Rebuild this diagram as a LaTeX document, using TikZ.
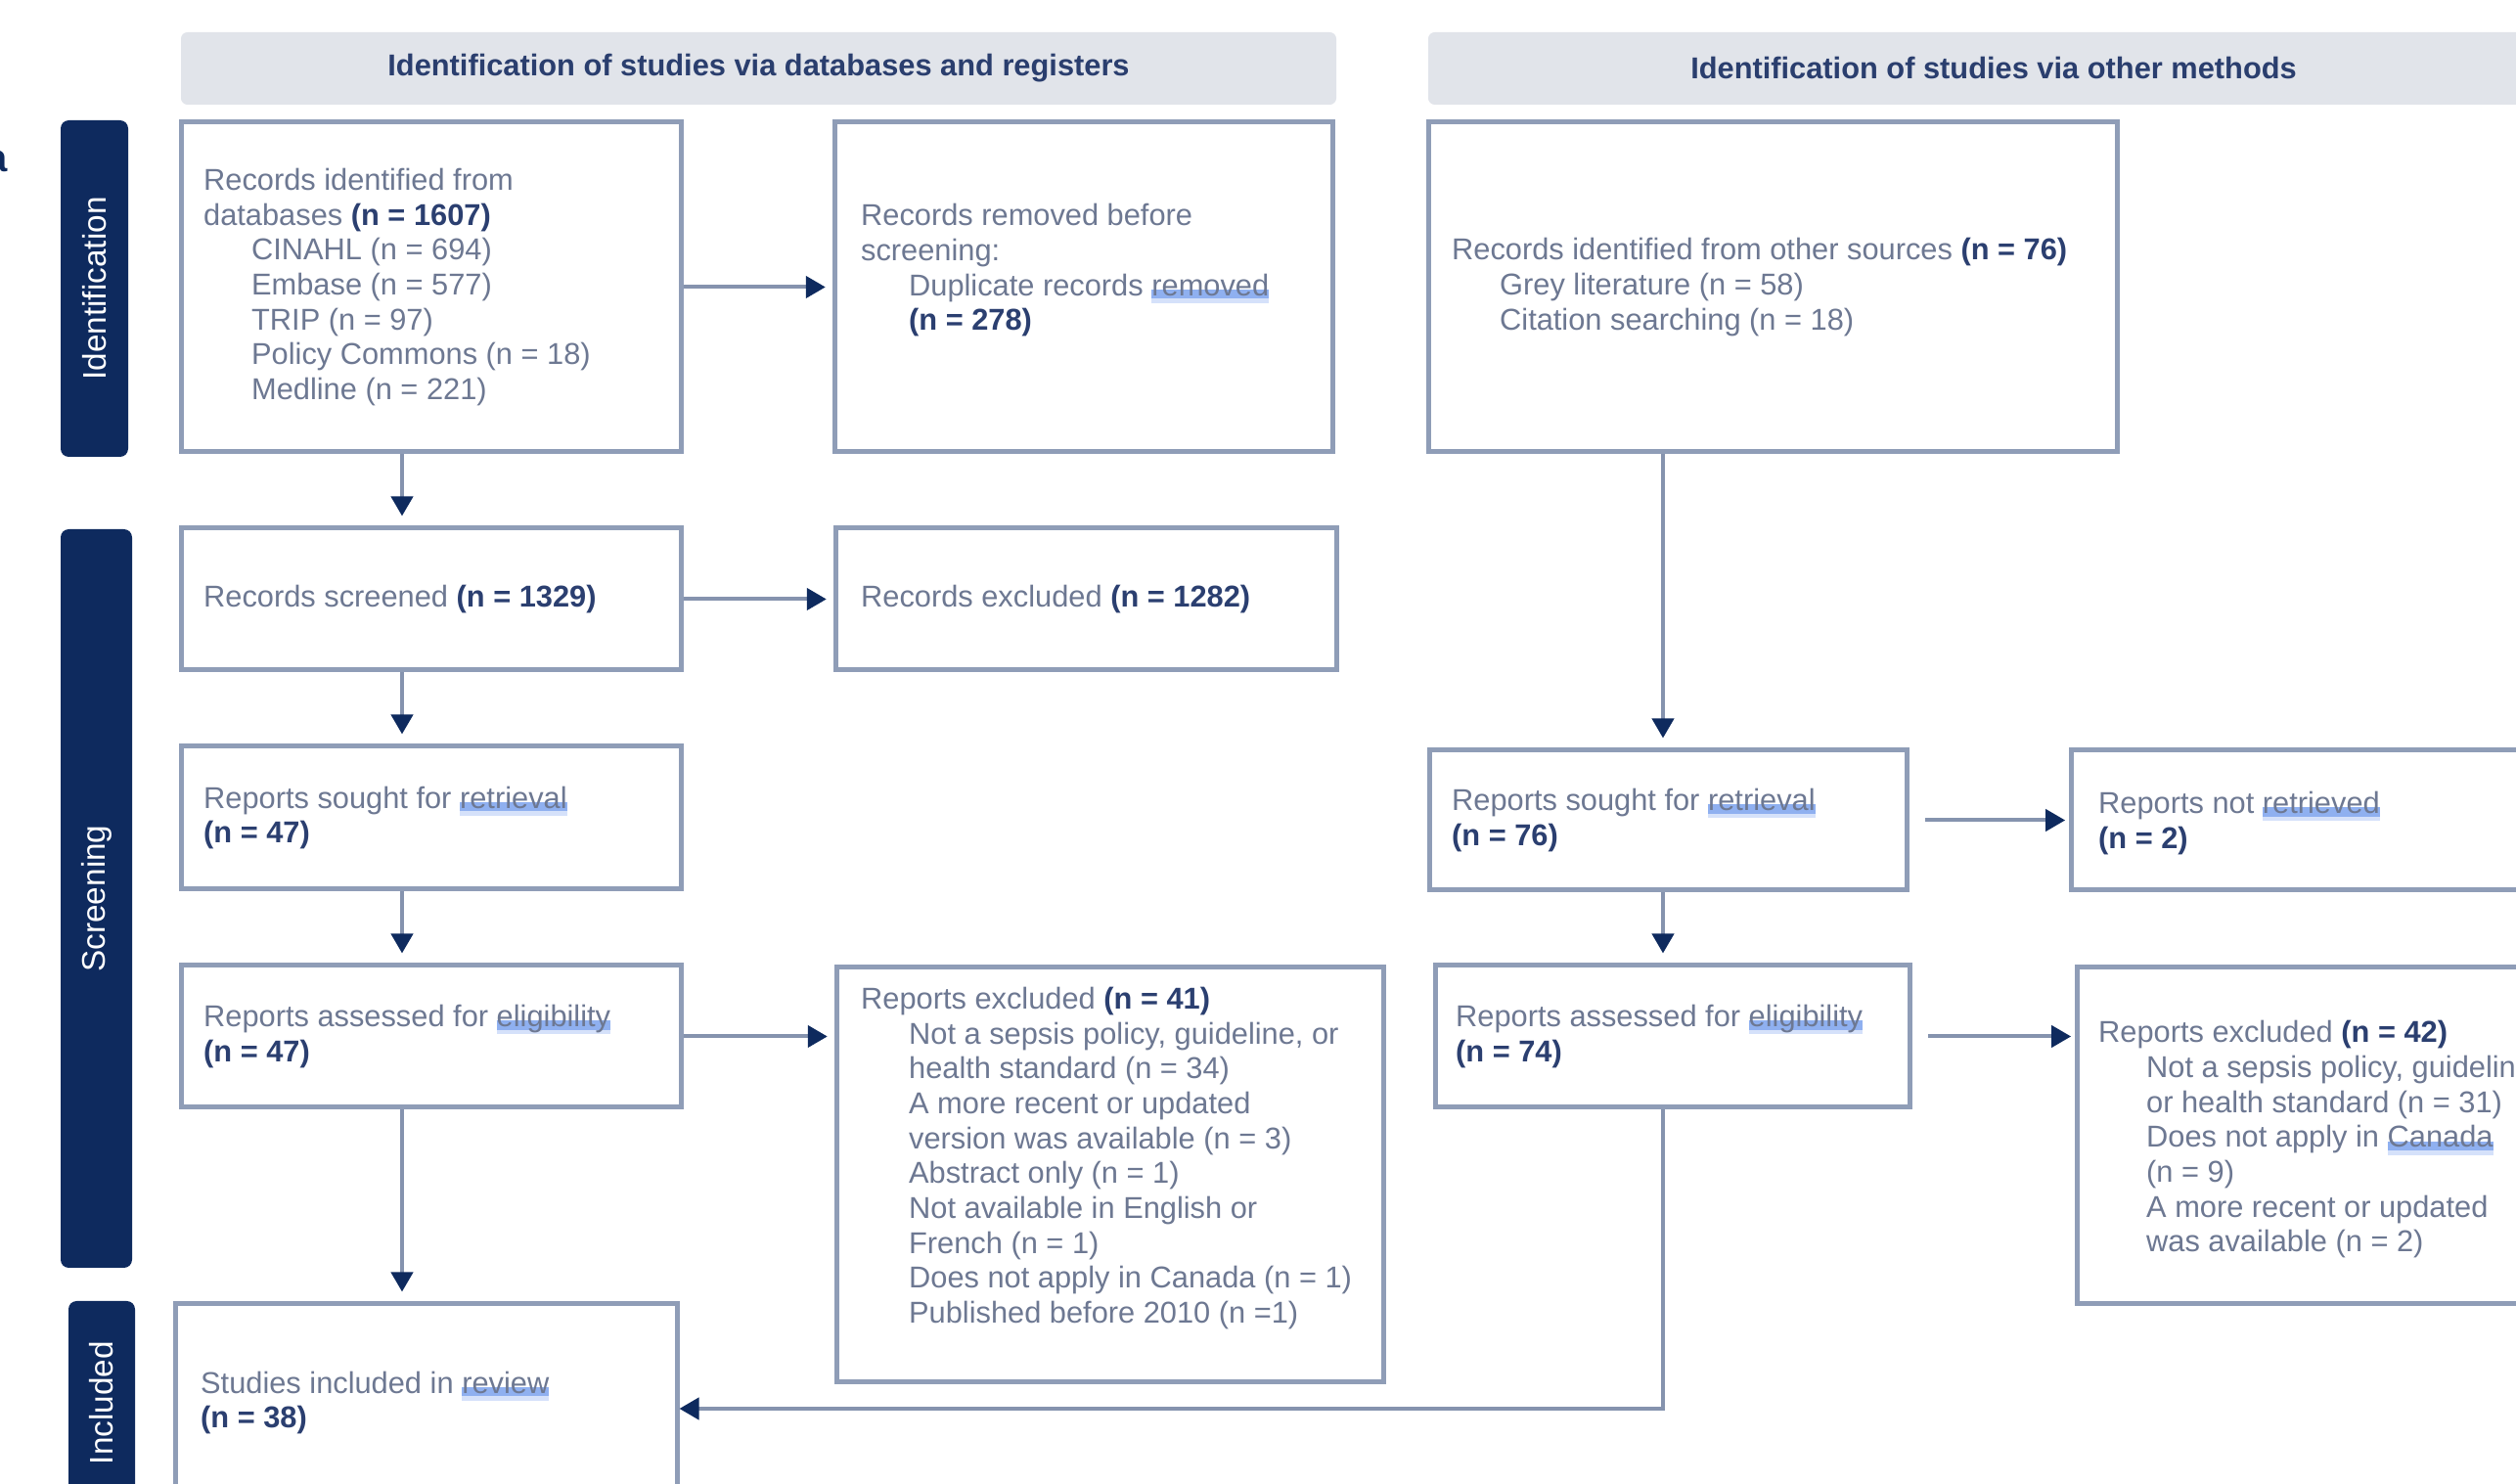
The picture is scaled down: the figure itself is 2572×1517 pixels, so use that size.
\documentclass[tikz,border=0pt]{standalone}
\usepackage{fontspec}
\setmainfont{Liberation Sans}
\usetikzlibrary{arrows.meta,calc,fit}
\definecolor{txtc}{HTML}{6D7892}
\definecolor{boldc}{HTML}{2B3F70}
\definecolor{boxc}{HTML}{8F9DB7}
\definecolor{linec}{HTML}{8593AE}
\definecolor{navyc}{HTML}{0E2A5E}
\definecolor{hdrc}{HTML}{E1E4EA}
\definecolor{hdrtc}{HTML}{2A3E6E}
\definecolor{ulc}{HTML}{8FB0F0}
\definecolor{ullc}{HTML}{D5E1FA}
\newcommand\nb[1]{{\bfseries\color{boldc}#1}}
\newcommand\ulw[1]{\setbox0=\hbox{#1}\rlap{\color{ulc}\rule[-0.1em]{\wd0}{0.3em}}\rlap{\color{ullc}\rule[-0.25em]{\wd0}{0.15em}}\box0}
\newcommand\ind{\hspace*{14.7pt}}
\begin{document}
\begin{tikzpicture}[x=0.3pt,y=-0.3pt,
 box/.style={draw=boxc,line width=1.5pt,fill=white,inner sep=0pt},
 bar/.style={fill=navyc,rounded corners=2.5pt,inner sep=0pt},
 hdr/.style={fill=hdrc,rounded corners=2pt,inner sep=0pt},
 lbl/.style={anchor=west,inner sep=0pt,align=left,text=txtc,font=\fontsize{9.24}{10.7}\selectfont},
 bartxt/.style={rotate=90,text=white,font=\fontsize{10}{12}\selectfont,inner sep=0pt},
 hdrtxt/.style={text=hdrtc,font=\bfseries\fontsize{9.24}{11}\selectfont,inner sep=0pt},
 arr/.style={draw=linec,line width=1.2pt,shorten >=2pt,-{Triangle[length=6pt,width=6.6pt,color=navyc,fill=navyc]}}]
\useasboundingbox (0,0) rectangle (2572,1517);
\clip (0,0) rectangle (2572,1517);
\fill[white] (0,0) rectangle (2572,1517);

% headers
\node[hdr, fit={(185,33) (1366,107)}] (hA) {};
\node[hdrtxt] (hAt) at (hA.center) {Identification of studies via databases and registers};
\node[hdr, fit={(1460,33) (2616,107)}] (hB) {};
\node[hdrtxt] (hBt) at (2038,70) {Identification of studies via other methods};

% partial panel letter at left edge
\node[anchor=east,inner sep=0pt,text=navyc,font=\bfseries\fontsize{12}{12}\selectfont] (plab) at (8,165) {a};

% side bars
\node[bar, fit={(62,123) (131,467)}] (idbar) {};
\node[bartxt] (idbart) at (idbar.center) {Identification};
\node[bar, fit={(62,541) (135,1296)}] (scbar) {};
\node[bartxt] (scbart) at (scbar.center) {Screening};
\node[bar, fit={(70,1330) (138,1538)}] (inbar) {};
\node[bartxt] (inbart) at (inbar.center) {Included};

% boxes
\node[box, fit={(185,125) (696,462)}] (b1) {};
\node[box, fit={(853,125) (1362,462)}] (b2) {};
\node[box, fit={(1460,125) (2164,462)}] (b3) {};
\node[box, fit={(185,540) (696,685)}] (s1) {};
\node[box, fit={(854,540) (1366,685)}] (s2) {};
\node[box, fit={(185,763) (696,909)}] (r1) {};
\node[box, fit={(1461,767) (1949,910)}] (r2) {};
\node[box, fit={(2117,767) (2640,910)}] (r3) {};
\node[box, fit={(185,987) (696,1132)}] (a1) {};
\node[box, fit={(1467,987) (1952,1132)}] (a2) {};
\node[box, fit={(855,989) (1414,1413)}] (e1) {};
\node[box, fit={(2123,989) (2640,1333)}] (e2) {};
\node[box, fit={(179,1333) (692,1547)}] (inc) {};

% texts
\node[lbl] (b1t) at ($(b1.west)+(25,0)$) {Records identified from\\ databases \nb{(n = 1607)}\\ \ind CINAHL (n = 694)\\ \ind Embase (n = 577)\\ \ind TRIP (n = 97)\\ \ind Policy Commons (n = 18)\\ \ind Medline (n = 221)};
\node[lbl] (b2t) at ($(b2.west)+(29,-17)$) {Records removed before\\ screening:\\ \ind Duplicate records \ulw{removed}\\ \ind \nb{(n = 278)}};
\node[lbl] (b3t) at ($(b3.west)+(26,0)$) {Records identified from other sources \nb{(n = 76)}\\ \ind Grey literature (n = 58)\\ \ind Citation searching (n = 18)};
\node[lbl] (s1t) at ($(s1.west)+(25,0)$) {Records screened \nb{(n = 1329)}};
\node[lbl] (s2t) at ($(s2.west)+(28,0)$) {Records excluded \nb{(n = 1282)}};
\node[lbl] (r1t) at ($(r1.west)+(25,0)$) {Reports sought for \ulw{retrieval}\\ \nb{(n = 47)}};
\node[lbl] (r2t) at ($(r2.west)+(25,0)$) {Reports sought for \ulw{retrieval}\\ \nb{(n = 76)}};
\node[lbl] (r3t) at ($(r3.west)+(30,3)$) {Reports not \ulw{retrieved}\\ \nb{(n = 2)}};
\node[lbl] (a1t) at ($(a1.west)+(25,0)$) {Reports assessed for \ulw{eligibility}\\ \nb{(n = 47)}};
\node[lbl] (a2t) at ($(a2.west)+(23,0)$) {Reports assessed for \ulw{eligibility}\\ \nb{(n = 74)}};
\node[lbl] (e1t) at ($(e1.west)+(27,-17)$) {Reports excluded \nb{(n = 41)}\\
 \ind Not a sepsis policy, guideline, or\\
 \ind health standard (n = 34)\\
 \ind A more recent or updated\\
 \ind version was available (n = 3)\\
 \ind Abstract only (n = 1)\\
 \ind Not available in English or\\
 \ind French (n = 1)\\
 \ind Does not apply in Canada (n = 1)\\
 \ind Published before 2010 (n =1)};
\node[lbl] (e2t) at ($(e2.west)+(24,4)$) {Reports excluded \nb{(n = 42)}\\
 \ind Not a sepsis policy, guideline,\\
 \ind or health standard (n = 31)\\
 \ind Does not apply in \ulw{Canada}\\
 \ind (n = 9)\\
 \ind A more recent or updated\\
 \ind was available (n = 2)};
\node[lbl] (inct) at ($(inc.west)+(28,-6)$) {Studies included in \ulw{review}\\ \nb{(n = 38)}};

% connector columns
\coordinate (lx) at (411,0);
\coordinate (vx) at (1700,0);

% connectors
\draw[arr] (b1.east) -- (b1.east -| b2.west);
\draw[arr] (s1.east) -- (s1.east -| s2.west);
\draw[arr] (a1.east) -- (a1.east -| e1.west);
\draw[arr,shorten >=3pt] (b1.south -| lx) -- (s1.north -| lx);
\draw[arr,shorten >=3pt] (s1.south -| lx) -- (r1.north -| lx);
\draw[arr,shorten >=3pt] (r1.south -| lx) -- (a1.north -| lx);
\draw[arr,shorten >=3pt] (a1.south -| lx) -- (inc.north -| lx);
\draw[arr,shorten >=3pt] (b3.south -| vx) -- (r2.north -| vx);
\draw[arr,shorten >=3pt] (r2.south -| vx) -- (a2.north -| vx);
\draw[arr,shorten <=5pt,shorten >=1pt] (r2.east) -- (r2.east -| r3.west);
\draw[arr,shorten <=5pt,shorten >=1pt] (a2.east) -- (a2.east -| e2.west);
\draw[arr,shorten >=0pt] (a2.south -| vx) |- (inc.east);
\end{tikzpicture}
\end{document}
